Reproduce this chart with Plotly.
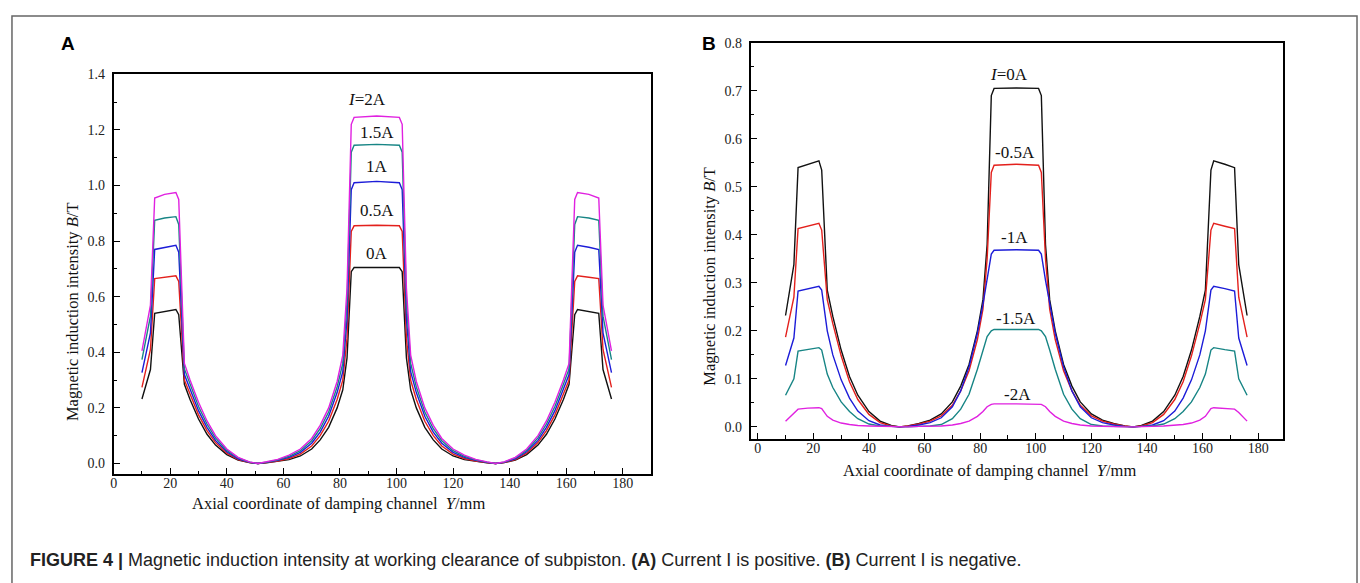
import plotly.graph_objects as go

W, H = 1360, 583

# Axial coordinate Y (mm) shared by all curves
y_mm = [10, 13, 14.5, 18, 22, 23, 25, 27, 30, 33, 36, 40, 44, 48, 51, 54, 58, 62, 66, 70,
        73, 76, 79, 81, 82.5, 84, 85, 93,
        101, 102, 103.5, 105, 107, 110, 113, 116, 120, 124, 128, 132, 135, 138, 142, 146,
        150, 153, 156, 159, 161, 163, 164, 168, 171.5, 173, 176]

# Panel A: positive current
labels_a = ["0A", "0.5A", "1A", "1.5A", "2A"]
b_0a = [0.232, 0.338, 0.540, 0.547, 0.554, 0.535, 0.285, 0.230, 0.160, 0.105, 0.066, 0.032, 0.012, 0.003,
        0.000, 0.002, 0.007, 0.014, 0.027, 0.052, 0.085, 0.130, 0.200, 0.265, 0.380, 0.690, 0.705, 0.706,
        0.705, 0.690, 0.380, 0.265, 0.200, 0.130, 0.085, 0.052, 0.027, 0.014, 0.007, 0.002, 0.000, 0.003,
        0.012, 0.032, 0.066, 0.105, 0.160, 0.230, 0.285, 0.535, 0.554, 0.547, 0.540, 0.338, 0.232]
b_05a = [0.274, 0.410, 0.665, 0.670, 0.675, 0.655, 0.300, 0.250, 0.175, 0.118, 0.075, 0.037, 0.014, 0.003,
         0.000, 0.003, 0.009, 0.018, 0.034, 0.063, 0.100, 0.152, 0.230, 0.300, 0.450, 0.835, 0.855, 0.857,
         0.855, 0.835, 0.450, 0.300, 0.230, 0.152, 0.100, 0.063, 0.034, 0.018, 0.009, 0.003, 0.000, 0.003,
         0.014, 0.037, 0.075, 0.118, 0.175, 0.250, 0.300, 0.655, 0.675, 0.670, 0.665, 0.410, 0.274]
b_1a = [0.327, 0.470, 0.770, 0.778, 0.785, 0.760, 0.320, 0.268, 0.190, 0.130, 0.083, 0.042, 0.017, 0.004,
        0.000, 0.004, 0.011, 0.022, 0.040, 0.073, 0.113, 0.170, 0.255, 0.330, 0.520, 0.985, 1.010, 1.015,
        1.010, 0.985, 0.520, 0.330, 0.255, 0.170, 0.113, 0.073, 0.040, 0.022, 0.011, 0.004, 0.000, 0.004,
        0.017, 0.042, 0.083, 0.130, 0.190, 0.268, 0.320, 0.760, 0.785, 0.778, 0.770, 0.470, 0.327]
b_15a = [0.374, 0.530, 0.875, 0.883, 0.888, 0.860, 0.340, 0.285, 0.205, 0.142, 0.092, 0.047, 0.020, 0.005,
         0.000, 0.005, 0.013, 0.026, 0.046, 0.082, 0.125, 0.185, 0.275, 0.360, 0.580, 1.120, 1.145, 1.148,
         1.145, 1.120, 0.580, 0.360, 0.275, 0.185, 0.125, 0.082, 0.046, 0.026, 0.013, 0.005, 0.000, 0.005,
         0.020, 0.047, 0.092, 0.142, 0.205, 0.285, 0.340, 0.860, 0.888, 0.883, 0.875, 0.530, 0.374]
b_2a = [0.405, 0.570, 0.955, 0.968, 0.975, 0.950, 0.360, 0.300, 0.220, 0.153, 0.100, 0.052, 0.022, 0.006,
        0.000, 0.006, 0.015, 0.030, 0.052, 0.090, 0.137, 0.200, 0.295, 0.390, 0.630, 1.220, 1.245, 1.250,
        1.245, 1.220, 0.630, 0.390, 0.295, 0.200, 0.137, 0.090, 0.052, 0.030, 0.015, 0.006, 0.000, 0.006,
        0.022, 0.052, 0.100, 0.153, 0.220, 0.300, 0.360, 0.950, 0.975, 0.968, 0.955, 0.570, 0.405]

# Panel B: negative current
labels_b = ["0A", "-0.5A", "-1A", "-1.5A", "-2A"]
b_m05a = [0.187, 0.270, 0.413, 0.418, 0.424, 0.410, 0.265, 0.215, 0.148, 0.094, 0.057, 0.026, 0.009, 0.002,
          0.000, 0.002, 0.006, 0.012, 0.023, 0.045, 0.075, 0.117, 0.182, 0.245, 0.350, 0.530, 0.545, 0.547,
          0.545, 0.530, 0.350, 0.245, 0.182, 0.117, 0.075, 0.045, 0.023, 0.012, 0.006, 0.002, 0.000, 0.002,
          0.009, 0.026, 0.057, 0.094, 0.148, 0.215, 0.265, 0.410, 0.424, 0.418, 0.413, 0.270, 0.187]
b_m1a = [0.128, 0.185, 0.283, 0.288, 0.293, 0.285, 0.200, 0.150, 0.098, 0.060, 0.033, 0.013, 0.004, 0.001,
         0.000, 0.001, 0.004, 0.009, 0.019, 0.042, 0.075, 0.125, 0.195, 0.255, 0.305, 0.360, 0.368, 0.369,
         0.368, 0.360, 0.305, 0.255, 0.195, 0.125, 0.075, 0.042, 0.019, 0.009, 0.004, 0.001, 0.000, 0.001,
         0.004, 0.013, 0.033, 0.060, 0.098, 0.150, 0.200, 0.285, 0.293, 0.288, 0.283, 0.185, 0.128]
b_m15a = [0.066, 0.100, 0.158, 0.161, 0.165, 0.160, 0.110, 0.082, 0.052, 0.032, 0.017, 0.006, 0.002, 0.001,
          0.000, 0.000, 0.001, 0.002, 0.005, 0.017, 0.037, 0.068, 0.120, 0.160, 0.188, 0.200, 0.203, 0.203,
          0.203, 0.200, 0.188, 0.160, 0.120, 0.068, 0.037, 0.017, 0.005, 0.002, 0.001, 0.000, 0.000, 0.001,
          0.002, 0.006, 0.017, 0.032, 0.052, 0.082, 0.110, 0.160, 0.165, 0.161, 0.158, 0.100, 0.066]
b_m2a = [0.012, 0.030, 0.037, 0.039, 0.040, 0.038, 0.022, 0.014, 0.008, 0.005, 0.003, 0.002, 0.001, 0.000,
         0.000, 0.000, 0.001, 0.001, 0.002, 0.004, 0.007, 0.012, 0.022, 0.032, 0.042, 0.047, 0.048, 0.048,
         0.048, 0.047, 0.042, 0.032, 0.022, 0.012, 0.007, 0.004, 0.002, 0.001, 0.001, 0.000, 0.000, 0.000,
         0.001, 0.002, 0.003, 0.005, 0.008, 0.014, 0.022, 0.038, 0.040, 0.039, 0.037, 0.030, 0.012]

colors = ["#111111", "#e3201c", "#1c1cd8", "#178585", "#e021e0"]
series_a = [b_0a, b_05a, b_1a, b_15a, b_2a]
series_b = [b_0a, b_m05a, b_m1a, b_m15a, b_m2a]

# label text and anchor positions (data coordinates)
ann_a_text = ["0A", "0.5A", "1A", "1.5A", "<i>I</i>=2A"]
ann_a_x = [93.0, 93.0, 93.2, 93.2, 89.5]
ann_a_y = [0.757, 0.911, 1.067, 1.192, 1.310]
ann_b_text = ["<i>I</i>=0A", "-0.5A", "-1A", "-1.5A", "-2A"]
ann_b_x = [90.2, 92.7, 92.5, 93.0, 93.4]
ann_b_y = [0.733, 0.572, 0.395, 0.226, 0.068]


def pxx(x):
    return x / W


def pyy(y):
    return 1 - y / H


fig = go.Figure()
for vals, c, name in zip(series_a, colors, labels_a):
    fig.add_trace(go.Scatter(x=y_mm, y=vals, mode="lines", name=name,
                             line=dict(color=c, width=1.4), xaxis="x", yaxis="y"))
for vals, c, name in zip(series_b, colors, labels_b):
    fig.add_trace(go.Scatter(x=y_mm, y=vals, mode="lines", name=name,
                             line=dict(color=c, width=1.4), xaxis="x2", yaxis="y2"))

serif = "Liberation Serif, Times New Roman, serif"
sans = "Liberation Sans, Arial, sans-serif"
tickfont = dict(family=serif, size=14, color="#222")

common = dict(showline=True, linecolor="black", linewidth=2, mirror=True,
              ticks="inside", ticklen=6, tickwidth=1.2, tickcolor="black",
              showgrid=False, zeroline=False, tickfont=tickfont)


def paper_ann(text, x, y, font, **kw):
    d = dict(text=text, x=pxx(x), y=pyy(y), xref="paper", yref="paper",
             xanchor="center", yanchor="middle", showarrow=False, font=font)
    d.update(kw)
    return d


annotations = []
for t, x, y in zip(ann_a_text, ann_a_x, ann_a_y):
    annotations.append(dict(text=t, x=x, y=y, xref="x", yref="y", showarrow=False,
                            xanchor="center", yanchor="middle",
                            font=dict(family=serif, size=17, color="#111")))
for t, x, y in zip(ann_b_text, ann_b_x, ann_b_y):
    annotations.append(dict(text=t, x=x, y=y, xref="x2", yref="y2", showarrow=False,
                            xanchor="center", yanchor="middle",
                            font=dict(family=serif, size=17, color="#111")))

title_font = dict(family=serif, size=16.5, color="#111")
ytitle = "Magnetic induction intensity <i>B</i>/T"
xtitle = "Axial coordinate of damping channel\u00a0 <i>Y</i>/mm"
annotations += [
    paper_ann(ytitle, 69, 308, title_font, textangle=-90),
    paper_ann(ytitle, 708, 272, title_font, textangle=-90),
    paper_ann(xtitle, 335, 503, title_font),
    paper_ann(xtitle, 988, 469, title_font),
    paper_ann("<b>A</b>", 64.5, 37, dict(family=sans, size=19, color="black")),
    paper_ann("<b>B</b>", 707, 37, dict(family=sans, size=19, color="black")),
    paper_ann("<b>FIGURE 4 |</b> Magnetic induction intensity at working clearance of subpiston. "
              "<b>(A)</b> Current I is positive. <b>(B)</b> Current I is negative.",
              24, 560, dict(family=sans, size=18, color="#222"), xanchor="left"),
]

fig.update_layout(
    width=W, height=H,
    margin=dict(l=0, r=0, t=0, b=0),
    paper_bgcolor="white", plot_bgcolor="white",
    showlegend=False,
    xaxis=dict(domain=[pxx(110), pxx(649)], range=[0, 190], dtick=20, tick0=0, anchor="y",
               ticklabelstandoff=-5,
               minor=dict(ticks="inside", ticklen=3.5, dtick=10, tickcolor="black", tickwidth=1.2),
               **common),
    yaxis=dict(domain=[pyy(473), pyy(68)], range=[-0.039, 1.4005], dtick=0.2, tick0=0,
               tickformat=".1f", anchor="x", ticklabelstandoff=4,
               minor=dict(ticks="inside", ticklen=3.5, dtick=0.1, tickcolor="black", tickwidth=1.2),
               **common),
    xaxis2=dict(domain=[pxx(749), pxx(1283)], range=[-2.5, 189], dtick=20, tick0=0, anchor="y2",
                ticklabelstandoff=-5,
                minor=dict(ticks="inside", ticklen=3.5, dtick=10, tickcolor="black", tickwidth=1.2),
                **common),
    yaxis2=dict(domain=[pyy(437), pyy(36)], range=[-0.0247, 0.8005], dtick=0.1, tick0=0,
                tickformat=".1f", anchor="x2", ticklabelstandoff=4,
                minor=dict(ticks="inside", ticklen=3.5, dtick=0.05, tickcolor="black", tickwidth=1.2),
                **common),
    annotations=annotations,
    shapes=[dict(type="rect", xref="paper", yref="paper", x0=pxx(8), x1=pxx(1357),
                 y0=pyy(600), y1=pyy(9), line=dict(color="#666", width=1.5))],
)

fig.write_html("out.html", config={"displayModeBar": False},
               post_script="document.body.style.margin='0';document.body.style.overflow='hidden';")
